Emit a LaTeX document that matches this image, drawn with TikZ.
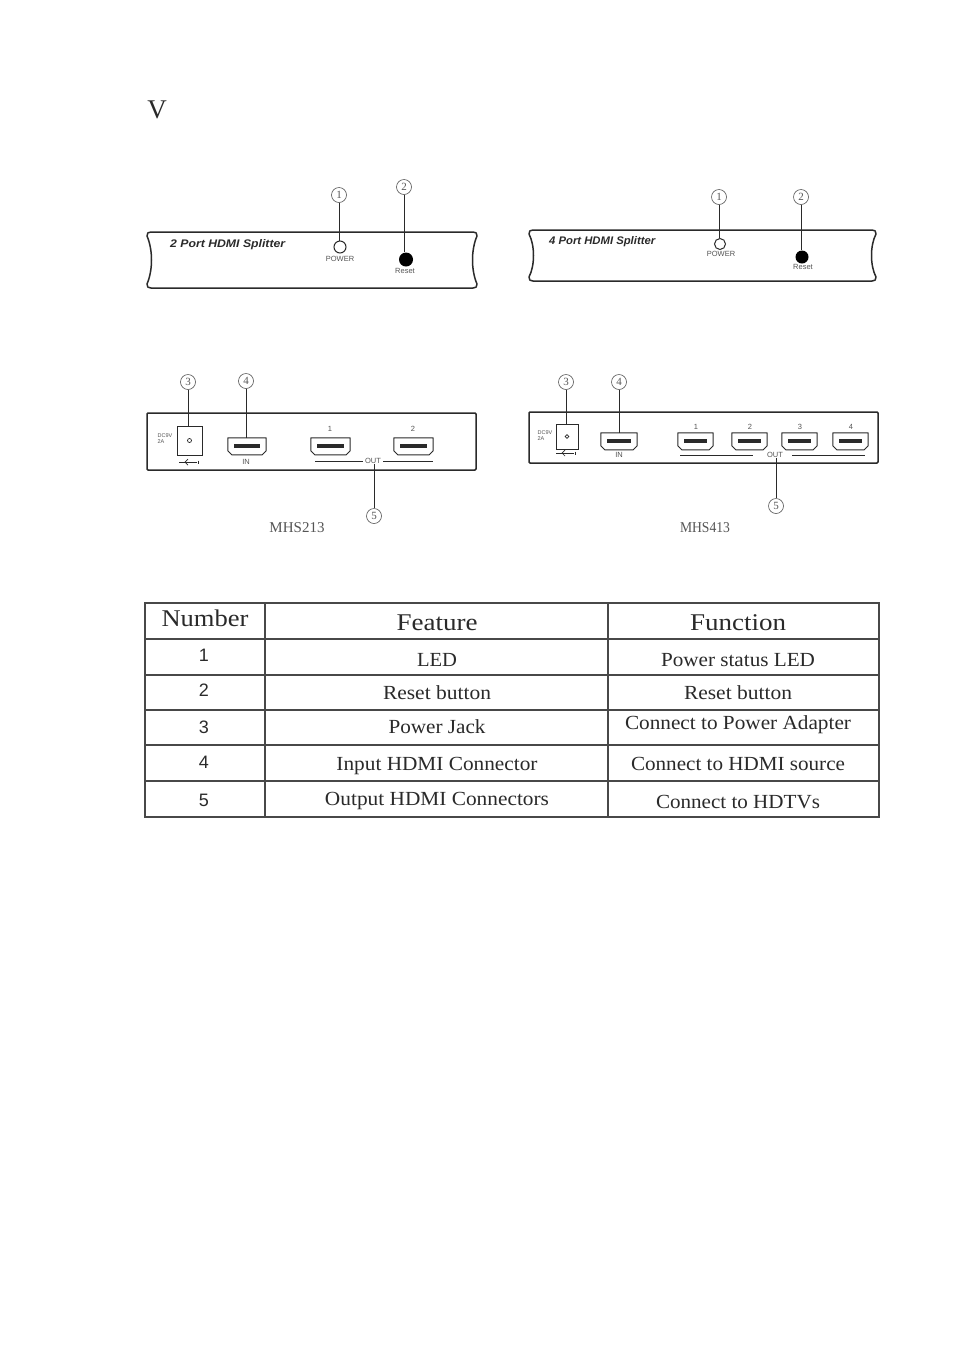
\documentclass[tikz,border=0pt]{standalone}
\usepackage{fontspec}
\usepackage{graphicx}
\setmainfont{Liberation Serif}
\setsansfont{Liberation Sans}
\definecolor{ink}{HTML}{2A2A2A}
\definecolor{soft}{HTML}{555555}
\definecolor{rule}{HTML}{484848}
\newcommand{\tw}[2]{\resizebox{#1pt}{\height}{#2}}
\newcommand{\panelbox}[4]{% left right top bottom
  \draw[panelline] ({#1+4},#3) -- ({#2-4},#3) .. controls ({#2-1},#3) and (#2,{#3+1}) .. (#2,{#3+4})
    .. controls ({#2-6},{(#3+#4)/2-10}) and ({#2-6},{(#3+#4)/2+10}) .. (#2,{#4-4})
    .. controls (#2,{#4-1}) and ({#2-1},#4) .. ({#2-4},#4) -- ({#1+4},#4)
    .. controls ({#1+1},#4) and (#1,{#4-1}) .. (#1,{#4-4})
    .. controls ({#1+6},{(#3+#4)/2+10}) and ({#1+6},{(#3+#4)/2-10}) .. (#1,{#3+4})
    .. controls (#1,{#3+1}) and ({#1+1},#3) .. cycle;}
\newcommand{\hport}[4]{% name cx top width
  \node[portslot,minimum width=#4pt] (#1) at (#2,{#3+8.5}) {};
  \draw[portline] (#1.north west) -- (#1.north east) -- ++(0,13) -- ++(-4,4) -- ([xshift=4pt,yshift=-17pt]#1.north west) -- ++(-4,-4) -- cycle;
  \fill[ink] ([yshift=-6pt,xshift=6pt]#1.north west) rectangle ([yshift=-10pt,xshift=-6pt]#1.north east);}
\newcommand{\dcmark}[2]{% cx y
  \draw[ink,line width=.9pt] ({#1-10},#2) -- ({#1+8},#2);
  \draw[ink,line width=.7pt] ({#1-1},{#2-3}) -- ({#1-4},#2) -- ({#1-1},{#2+3});
  \draw[ink,line width=.7pt] ({#1+9},{#2-1.5}) -- ({#1+9},{#2+1.5});}
\tikzset{
  x=1pt,y=-1pt,
  panelline/.style={draw=ink,line width=1.5pt,line join=round},
  portline/.style={draw=ink,line width=1pt,line join=round},
  portslot/.style={inner sep=0pt,minimum height=17pt,draw=none},
  leader/.style={draw=ink,line width=1pt},
  callout/.style={circle,draw=soft,line width=.6pt,inner sep=0pt,minimum size=15pt,font=\fontsize{11}{11}\selectfont,text=soft},
  tiny/.style={font=\sffamily\fontsize{7.5}{8}\selectfont,text=soft,inner sep=0pt},
  ttl/.style={font=\sffamily\bfseries\itshape\fontsize{11}{12}\selectfont,text=ink,inner sep=0pt,anchor=west,text height=8pt,text depth=0pt},
  modeltxt/.style={font=\fontsize{15}{16}\selectfont,text=soft,inner sep=0pt},
  head/.style={font=\fontsize{24}{26}\selectfont,text=ink,inner sep=0pt,text height=16pt,text depth=0pt},
  cell/.style={font=\fontsize{20}{22}\selectfont,text=ink,inner sep=0pt,text height=13.5pt,text depth=0pt},
  numcell/.style={font=\sffamily\fontsize{18}{20}\selectfont,text=ink,inner sep=0pt},
  tableline/.style={draw=rule,line width=1.5pt},
  jack/.style={draw=ink,line width=1pt,inner sep=0pt},
  dotblack/.style={circle,fill=black,inner sep=0pt},
  ledring/.style={circle,draw=ink,line width=1pt,inner sep=0pt,fill=white},
}
\begin{document}
\begin{tikzpicture}
\useasboundingbox[fill=white] (0,0) rectangle (954,1350);
\node[font=\fontsize{27}{28}\selectfont,text=ink,inner sep=0pt] (vv) at (157,110) {V};

% top-left panel
\panelbox{147}{477}{232}{288}
\node[ttl] (t1) at (170,243) {\tw{115}{2 Port HDMI Splitter}};
\node[callout] (c1a) at (339,195) {1};
\node[callout] (c2a) at (404,187) {2};
\node[ledring,minimum size=12pt] (led1) at (340,247) {};
\node[dotblack,minimum size=14pt] (rst1) at (406,259.5) {};
\node[tiny] (pw1) at (340,259) {POWER};
\node[tiny] (rs1) at (405,271) {Reset};
\draw[leader] (c1a) -- (led1.north -| c1a);
\draw[leader] (c2a) -- (rst1.north -| c2a);

% top-right panel
\panelbox{529}{876}{230}{281}
\node[ttl] (t2) at (549,240) {\tw{106}{4 Port HDMI Splitter}};
\node[callout] (c1b) at (719,197) {1};
\node[callout] (c2b) at (801,197) {2};
\node[ledring,minimum size=11pt] (led2) at (720,244) {};
\node[dotblack,minimum size=13pt] (rst2) at (802,257) {};
\node[tiny] (pw2) at (721,254) {POWER};
\node[tiny] (rs2) at (803,267) {Reset};
\draw[leader] (c1b) -- (led2.north -| c1b);
\draw[leader] (c2b) -- (rst2.north -| c2b);

% lower-left panel
\draw[panelline,rounded corners=1pt] (147,413) rectangle (476,470);
\node[callout] (c3a) at (188,382) {3};
\node[callout] (c4a) at (246,381) {4};
\node[jack,minimum width=25pt,minimum height=29pt] (j1) at (189.5,440.5) {};
\draw[ink,line width=.7pt] (j1.center) circle (2pt);
\node[align=left,font=\sffamily\fontsize{5.5}{6}\selectfont,text=soft,inner sep=0pt] (dc1) at (165,439) {DC9V\\2A};
\dcmark{189}{462}
\hport{pin1}{247}{438}{38}
\hport{po11}{330.5}{438}{39}
\hport{po12}{413.5}{438}{39}
\node[tiny] (in1) at (246,462) {IN};
\node[tiny] (n11) at (330,429) {1};
\node[tiny] (n12) at (413,429) {2};
\node[tiny] (ou1) at (373,461) {OUT};
\draw[leader,line width=.9pt] (ou1.west) ++(-2,0) -- (315,461);
\draw[leader,line width=.9pt] (ou1.east) ++(2,0) -- (433,461);
\node[callout] (c5a) at (374,516) {5};
\draw[leader] (ou1.south -| c5a) -- (c5a);
\draw[leader] (c3a) -- (j1.north -| c3a);
\draw[leader] (c4a) -- (pin1.north -| c4a);
\node[modeltxt] (m1) at (297,528) {MHS213};

% lower-right panel
\draw[panelline,rounded corners=1pt] (529,412) rectangle (878,463);
\node[callout] (c3b) at (566,382) {3};
\node[callout] (c4b) at (619,382) {4};
\node[jack,minimum width=22pt,minimum height=25pt] (j2) at (567,436.5) {};
\draw[ink,line width=.7pt] (j2.center) circle (1.8pt);
\node[align=left,font=\sffamily\fontsize{5.5}{6}\selectfont,text=soft,inner sep=0pt] (dc2) at (545,436) {DC9V\\2A};
\dcmark{566}{453}
\hport{pin2}{619}{433}{36}
\hport{po21}{695.5}{433}{35}
\hport{po22}{749.5}{433}{35}
\hport{po23}{799.5}{433}{35}
\hport{po24}{850.5}{433}{35}
\node[tiny] (in2) at (619,455) {IN};
\node[tiny] (n21) at (696,427) {1};
\node[tiny] (n22) at (750,427) {2};
\node[tiny] (n23) at (800,427) {3};
\node[tiny] (n24) at (851,427) {4};
\node[tiny] (ou2) at (775,455) {OUT};
\draw[leader,line width=.9pt] (680,455) -- (753,455);
\draw[leader,line width=.9pt] (792,455) -- (865,455);
\node[callout] (c5b) at (776,506) {5};
\draw[leader] (ou2.south -| c5b) -- (c5b);
\draw[leader] (c3b) -- (j2.north -| c3b);
\draw[leader] (c4b) -- (pin2.north -| c4b);
\node[modeltxt] (m2) at (705,528) {\tw{50}{MHS413}};

% table
\draw[tableline] (145,603) rectangle (879,817);
\foreach \yy in {639,675,710,745,781} \draw[tableline] (145,\yy) -- (879,\yy);
\foreach \xx in {265,608} \draw[tableline] (\xx,603) -- (\xx,817);
\node[head] (h1) at (205,618) {\tw{87}{Number}};
\node[head] (h2) at (437,622) {\tw{81}{Feature}};
\node[head] (h3) at (738,622) {\tw{96}{Function}};
\node[numcell] (r1) at (204,655) {1};
\node[numcell] (r2) at (204,690) {2};
\node[numcell] (r3) at (204,727) {3};
\node[numcell] (r4) at (204,762) {4};
\node[numcell] (r5) at (204,800) {5};
\node[cell] (f1) at (437,660) {\tw{40}{LED}};
\node[cell] (f2) at (437,693) {\tw{108}{Reset button}};
\node[cell] (f3) at (437,727) {\tw{97}{Power Jack}};
\node[cell] (f4) at (437,764) {\tw{201}{Input HDMI Connector}};
\node[cell] (f5) at (437,799) {\tw{224}{Output HDMI Connectors}};
\node[cell] (g1) at (738,660) {\tw{154}{Power status LED}};
\node[cell] (g2) at (738,693) {\tw{108}{Reset button}};
\node[cell] (g3) at (738,723) {\tw{226}{Connect to Power Adapter}};
\node[cell] (g4) at (738,764) {\tw{214}{Connect to HDMI source}};
\node[cell] (g5) at (738,802) {\tw{164}{Connect to HDTVs}};
\end{tikzpicture}
\end{document}
